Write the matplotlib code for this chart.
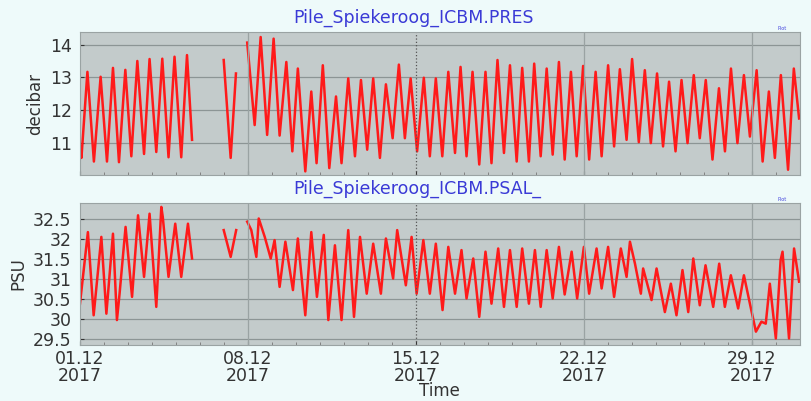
import numpy as np
import pandas as pd
import matplotlib
matplotlib.use("Agg")
import matplotlib.pyplot as plt
import matplotlib.dates as mdates
from matplotlib.ticker import FuncFormatter, MultipleLocator

start = pd.Timestamp("2017-12-01")

# Pressure (decibar): days since 01.12.2017 and values, NaN = gap
pres_days = [0.00, 0.06, 0.31, 0.58, 0.86, 1.125, 1.375, 1.625, 1.89, 2.14, 2.39, 2.67,
             2.90, 3.18, 3.43, 3.69, 3.94, 4.22, 4.46, 4.67, 5.30,
             5.99, 6.28, 6.50, 6.75,
             6.97, 7.28, 7.53, 7.80, 8.07, 8.32, 8.60, 8.85, 9.08, 9.39, 9.64, 9.86,
             10.12, 10.39, 10.67, 10.90, 11.18, 11.46, 11.71, 11.97, 12.22, 12.50,
             12.75, 13.03, 13.29, 13.54, 13.78, 14.05, 14.33, 14.58, 14.83, 15.10,
             15.35, 15.63, 15.86, 16.11, 16.36, 16.64, 16.90, 17.15, 17.40, 17.67,
             17.92, 18.20, 18.43, 18.71, 18.93, 19.20, 19.45, 19.70, 19.96, 20.20,
             20.46, 20.70, 20.97, 21.22, 21.49, 21.74, 22.01, 22.26, 22.50, 22.78,
             23.01, 23.29, 23.54, 23.79, 24.05, 24.30, 24.55, 24.82, 25.07, 25.32,
             25.58, 25.83, 26.08, 26.36, 26.63, 26.88, 27.13, 27.40, 27.67, 27.92,
             28.20, 28.45, 28.71, 28.96, 29.21, 29.51, 29.75, 29.97]
pres_vals = [10.90, 10.55, 13.17, 10.44, 13.02, 10.44, 13.29, 10.42, 13.23, 10.60, 13.50, 10.67,
             13.56, 10.73, 13.57, 10.57, 13.63, 10.57, 13.68, 11.10, np.nan,
             13.53, 10.55, 13.12, np.nan,
             14.06, 11.55, 14.23, 11.25, 14.18, 11.23, 13.47, 10.75, 13.27, 10.14, 12.57, 10.39,
             13.37, 10.24, 12.42, 10.39, 12.97, 10.60, 12.92, 10.80, 12.97, 10.55,
             12.79, 11.15, 13.39, 11.15, 12.97, 10.75, 12.99, 10.60, 12.97, 10.60,
             13.17, 10.70, 13.32, 10.60, 13.17, 10.35, 13.17, 10.39, 13.53, 10.70,
             13.37, 10.44, 13.29, 10.44, 13.42, 10.60, 13.27, 10.65, 13.47, 10.50,
             13.17, 10.60, 13.35, 10.50, 13.17, 10.60, 13.37, 10.90, 13.25, 11.10,
             13.56, 11.03, 13.22, 11.00, 13.12, 10.90, 12.87, 10.75, 12.92, 11.00,
             13.07, 11.15, 12.92, 10.50, 12.67, 10.75, 13.27, 11.00, 13.07, 11.20,
             13.22, 10.44, 12.57, 10.55, 13.07, 10.19, 13.27, 11.75]

# Salinity (PSU)
psal_days = [0.00, 0.33, 0.57, 0.89, 1.10, 1.375, 1.54, 1.65, 1.90, 2.17, 2.42, 2.67,
             2.90, 3.18, 3.39, 3.45, 3.69, 3.97, 4.22, 4.50, 4.67, 5.30,
             5.99, 6.28, 6.51, 6.75,
             6.97, 7.14, 7.35, 7.45, 7.70, 7.95, 8.11, 8.32, 8.56, 8.875, 9.08, 9.39,
             9.64, 9.875, 10.16, 10.35, 10.625, 10.90, 11.18, 11.42, 11.67, 11.95,
             12.22, 12.54, 12.75, 13.05, 13.22, 13.58, 13.82, 14.03, 14.31, 14.58,
             14.83, 15.11, 15.35, 15.63, 15.90, 16.11, 16.39, 16.64, 16.90, 17.15,
             17.43, 17.67, 17.92, 18.20, 18.43, 18.71, 18.96, 19.20, 19.45, 19.70,
             19.96, 20.20, 20.49, 20.72, 21.00, 21.22, 21.53, 21.74, 22.01, 22.26,
             22.54, 22.78, 22.92, 23.13, 23.375, 23.47, 23.82, 24.03, 24.375, 24.625,
             24.86, 25.11, 25.35, 25.56, 25.83, 26.07, 26.39, 26.64, 26.875, 27.125,
             27.43, 27.67, 27.92, 28.17, 28.40, 28.58, 28.75, 29.00, 29.20, 29.28,
             29.55, 29.76, 29.97]
psal_vals = [30.38, 32.17, 30.09, 32.05, 30.13, 32.13, 29.97, 30.63, 32.30, 30.55, 32.59, 31.05,
             32.63, 30.30, 32.80, 32.55, 31.05, 32.38, 31.05, 32.38, 31.51, np.nan,
             32.22, 31.55, 32.22, np.nan,
             32.43, 32.22, 31.55, 32.51, 32.05, 31.51, 31.97, 30.80, 31.93, 30.72, 32.01, 30.09,
             32.17, 30.55, 32.10, 29.97, 31.84, 29.97, 32.22, 30.05, 32.05, 30.63,
             31.88, 30.63, 32.01, 31.01, 32.22, 30.84, 32.05, 30.63, 31.97, 30.63,
             31.88, 30.22, 31.80, 30.63, 31.72, 30.51, 31.51, 30.05, 31.68, 30.38,
             31.76, 30.30, 31.72, 30.30, 31.76, 30.38, 31.72, 30.30, 31.72, 30.51,
             31.80, 30.61, 31.68, 30.51, 31.80, 30.63, 31.76, 30.76, 31.80, 30.55,
             31.76, 31.05, 31.93, 31.38, 30.63, 31.26, 30.47, 31.26, 30.17, 30.88,
             30.09, 31.22, 30.17, 31.51, 30.34, 31.34, 30.30, 31.38, 30.30, 31.09,
             30.26, 31.09, 30.38, 29.68, 29.93, 29.88, 30.88, 29.51, 31.47, 31.68,
             29.51, 31.76, 30.93]

pres_t = start + pd.to_timedelta(pres_days, unit="D")
psal_t = start + pd.to_timedelta(psal_days, unit="D")

bg = "#eefafa"
face = "#c3cbcb"
gridc = "#8c9595"

fig = plt.figure(figsize=(8.12, 4.01), dpi=100, facecolor=bg)
ax1 = fig.add_axes([0.0985, 0.5636, 0.8865, 0.3564])
ax2 = fig.add_axes([0.0985, 0.140, 0.8865, 0.354], sharex=ax1)

panels = [(ax1, pres_t, pres_vals, "decibar", "Pile_Spiekeroog_ICBM.PRES", (10.03, 14.38), 1.0),
          (ax2, psal_t, psal_vals, "PSU", "Pile_Spiekeroog_ICBM.PSAL_", (29.35, 32.9), 0.5)]

for ax, t, v, ylab, title, ylim, step in panels:
    ax.set_facecolor(face)
    ax.plot(t, v, color="#ff1a1a", lw=1.8, solid_joinstyle="round")
    ax.set_ylim(*ylim)
    ax.yaxis.set_major_locator(MultipleLocator(step))
    ax.yaxis.set_major_formatter(FuncFormatter(lambda x, pos: f"{x:g}"))
    ax.set_ylabel(ylab, fontsize=12, color="#333333", labelpad=4)
    ax.grid(True, axis="y", color=gridc, lw=0.9)
    ax.tick_params(axis="both", labelsize=12.5, colors="#333333", direction="in",
                   length=3, pad=6)
    ax.tick_params(which="minor", direction="in", length=2, color="#777777")
    for s in ax.spines.values():
        s.set_color("#9aa3a3")
    for d in [8, 22, 29]:
        ax.axvline(pd.Timestamp(2017, 12, d), color="#9aa3a3", lw=0.9)
    ax.axvline(pd.Timestamp(2017, 12, 15), color="#555555", lw=0.9, ls=":")
    fig.text(293 / 812, ax.get_position().y1 + 0.012, title, ha="left", va="bottom",
             fontsize=12.5, color="#3a3ad6")

ax1.tick_params(axis="x", labelbottom=False)
ax1.set_xlim(start, start + pd.Timedelta(days=30))
ax2.xaxis.set_major_locator(mdates.DayLocator(bymonthday=[1, 8, 15, 22, 29]))
ax2.xaxis.set_minor_locator(mdates.DayLocator())
ax2.xaxis.set_major_formatter(mdates.DateFormatter("%d.%m\n%Y"))
ax2.tick_params(axis="x", pad=4)
for lab in ax2.get_xticklabels():
    lab.set_linespacing(0.9)
fig.text(0.541, 0.002, "Time", ha="center", va="bottom", fontsize=12, color="#333333")

fig.text(0.958, 0.925, "Plot", fontsize=3.5, color="#4444dd")
fig.text(0.958, 0.498, "Plot", fontsize=3.5, color="#4444dd")

fig.savefig("out.png", dpi=100, facecolor=bg)
